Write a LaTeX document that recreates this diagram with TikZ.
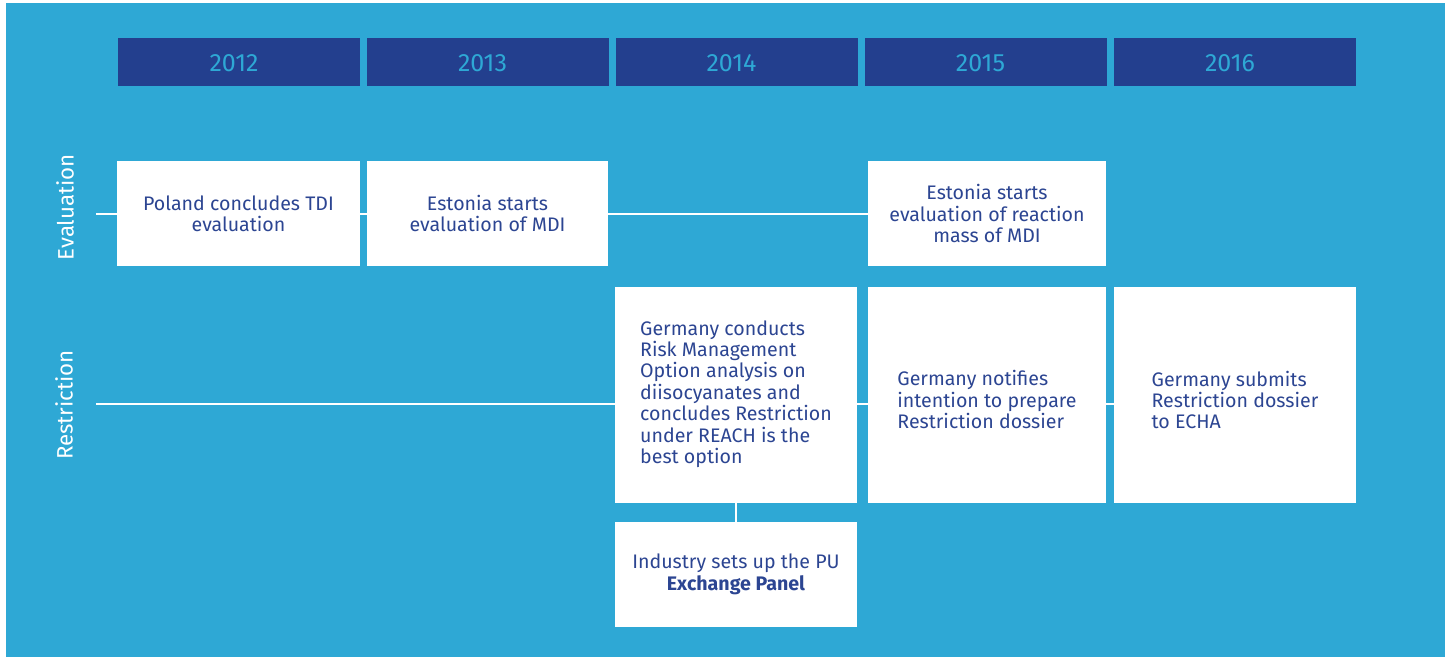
\documentclass[tikz,border=0pt]{standalone}
\usepackage{fontspec}
\setmainfont{Fira Sans}
\usetikzlibrary{backgrounds}
\definecolor{bgblue}{HTML}{2EA8D5}
\definecolor{hdrblue}{HTML}{233F8E}
\definecolor{txtblue}{HTML}{2C4592}
\tikzset{
  yearbox/.style={fill=hdrblue, minimum width=242pt, minimum height=48pt, inner sep=0pt},
  yeartext/.style={text=bgblue, font=\fontsize{25}{27}\selectfont, inner sep=0pt},
  evbox/.style={fill=white, text=txtblue, minimum height=105pt, inner sep=0pt,
    font=\fontsize{19.6}{21.4}\selectfont, align=center},
  rsbox/.style={fill=white, minimum height=216pt, inner sep=0pt},
  rstext/.style={text=txtblue, inner sep=0pt,
    font=\fontsize{19.6}{21.4}\selectfont, align=left},
  rowlabel/.style={text=white, rotate=90, font=\fontsize{22.3}{24}\selectfont, inner sep=0pt},
  conn/.style={draw=white, line width=2.2pt}
}
\begin{document}
\begin{tikzpicture}[x=1pt, y=-1pt]
\useasboundingbox (0,0) rectangle (1449,657);
\begin{scope}[on background layer]
\fill[white] (0,0) rectangle (1449,657);
\fill[bgblue] (6,3) rectangle (1445,657);
\end{scope}

% year headers
\node[yearbox] (y12) at (239,62) {};
\node[yearbox] (y13) at (487.5,62) {};
\node[yearbox] (y14) at (736.5,62) {};
\node[yearbox] (y15) at (985.5,62) {};
\node[yearbox] (y16) at (1235,62) {};
\node[yeartext] (t12) at ([xshift=-5pt, yshift=-1pt]y12.center) {2012};
\node[yeartext] (t13) at ([xshift=-5pt, yshift=-1pt]y13.center) {2013};
\node[yeartext] (t14) at ([xshift=-5pt, yshift=-1pt]y14.center) {2014};
\node[yeartext] (t15) at ([xshift=-5pt, yshift=-1pt]y15.center) {2015};
\node[yeartext] (t16) at ([xshift=-5pt, yshift=-1pt]y16.center) {2016};

% row labels
\node[rowlabel] (lev) at (65,207) {Evaluation};
\node[rowlabel] (lrs) at (64,405) {Restriction};
\coordinate (evs) at (96,214);
\coordinate (rss) at (96,404);

% evaluation boxes
\node[evbox, minimum width=243pt] (pl) at (238.5,213.5) {Poland concludes TDI\\evaluation};
\node[evbox, minimum width=241pt] (es) at (487.5,213.5) {Estonia starts\\evaluation of MDI};
\node[evbox, minimum width=238pt] (es15) at (987,213.5) {Estonia starts\\evaluation of reaction\\mass of MDI};

% restriction boxes
\node[rsbox, minimum width=242pt] (gc) at (736,395) {};
\node[rsbox, minimum width=238pt] (gn) at (987,395) {};
\node[rsbox, minimum width=242pt] (gs) at (1235,395) {};
\node[rstext] (gctext) at ([yshift=1pt]gc.center) {Germany conducts\\Risk Management\\Option analysis on\\diisocyanates and\\concludes Restriction\\under REACH is the\\best option};
\node[rstext] (gntext) at ([yshift=-4.5pt]gn.center) {Germany notifies\\intention to prepare\\Restriction dossier};
\node[rstext] (gstext) at ([yshift=-5pt]gs.center) {Germany submits\\Restriction dossier\\to ECHA};
\node[evbox, minimum width=242pt] (ind) at (736,574.5) {Industry sets up the PU\\\textbf{Exchange Panel}};

\begin{scope}[on background layer]
\draw[conn] (evs) -- (es15.west |- evs);
\draw[conn] (rss) -- (gs.west |- rss);
\end{scope}
\draw[conn] (gc.south) -- (ind.north);
\end{tikzpicture}
\end{document}
